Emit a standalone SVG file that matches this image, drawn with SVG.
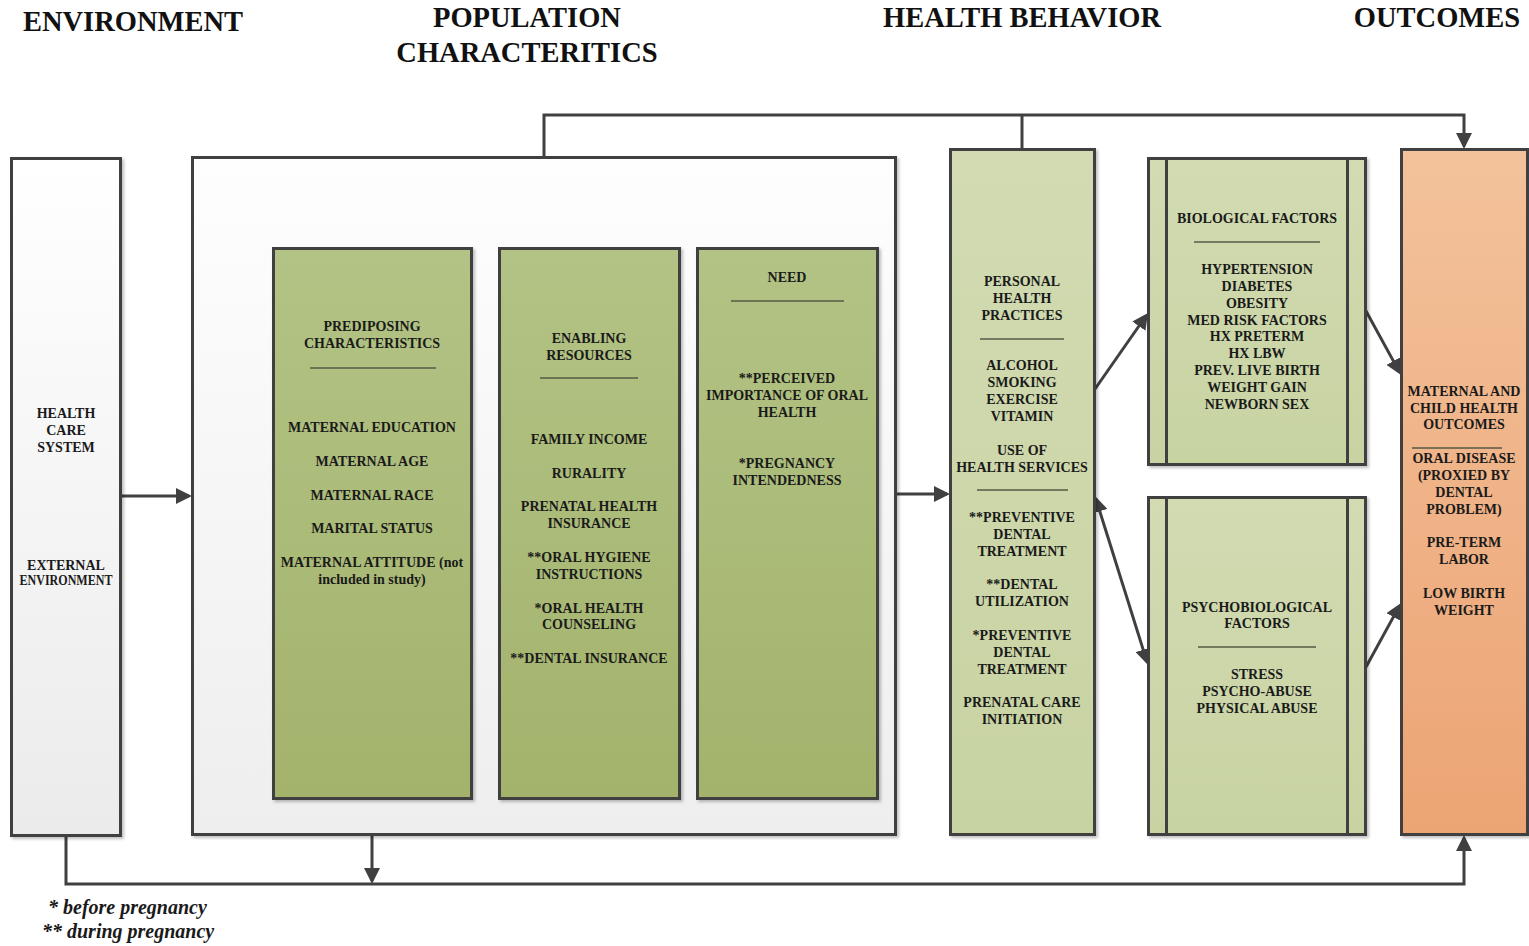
<svg xmlns="http://www.w3.org/2000/svg" width="1529" height="946" viewBox="0 0 1529 946">
  <style>
    .box { stroke: #404040; stroke-width: 3; }
    .sep { stroke: #555a45; stroke-width: 1.5; }
    .inner { stroke: #404040; stroke-width: 3; fill: none; }
    .t { font-family: "Liberation Serif", "Times New Roman", serif; font-weight: bold; font-size: 14px; fill: #1a1a1a; text-anchor: middle; }
    .head { font-family: "Liberation Serif", "Times New Roman", serif; font-weight: bold; font-size: 28.5px; fill: #111; text-anchor: middle; }
    .note { font-family: "Liberation Serif", "Times New Roman", serif; font-weight: bold; font-style: italic; font-size: 20px; fill: #1a1a1a; }
    .conn { stroke: #404040; stroke-width: 3; fill: none; }
  </style>
  <defs>
    <linearGradient id="gGrey" x1="0" y1="0" x2="0" y2="1">
      <stop offset="0" stop-color="#ffffff"/>
      <stop offset="1" stop-color="#ebebeb"/>
    </linearGradient>
    <linearGradient id="gPop" x1="0" y1="0" x2="0" y2="1">
      <stop offset="0" stop-color="#fefefe"/>
      <stop offset="1" stop-color="#eeeeee"/>
    </linearGradient>
    <linearGradient id="gOlive" x1="0" y1="0" x2="0" y2="1">
      <stop offset="0" stop-color="#b3c385"/>
      <stop offset="1" stop-color="#a3b36c"/>
    </linearGradient>
    <linearGradient id="gSage" x1="0" y1="0" x2="0" y2="1">
      <stop offset="0" stop-color="#d2dbb2"/>
      <stop offset="1" stop-color="#c8d3a2"/>
    </linearGradient>
    <linearGradient id="gPeach" x1="0" y1="0" x2="0" y2="1">
      <stop offset="0" stop-color="#f3c29b"/>
      <stop offset="1" stop-color="#eca474"/>
    </linearGradient>
    <filter id="shadow" x="-10%" y="-5%" width="120%" height="110%">
      <feDropShadow dx="2" dy="2" stdDeviation="1.5" flood-color="#000" flood-opacity="0.25"/>
    </filter>
    <marker id="arrow" markerUnits="userSpaceOnUse" markerWidth="16" markerHeight="16" refX="13" refY="8" orient="auto-start-reverse">
      <path d="M0,0 L16,8 L0,16 Z" fill="#404040"/>
    </marker>
  </defs>

  <rect width="1529" height="946" fill="#ffffff"/>

  <!-- column headings -->
  <g id="headings">
    <text class="head" x="133" y="31">ENVIRONMENT</text>
    <text class="head" x="527" y="27">POPULATION</text>
    <text class="head" x="527" y="62">CHARACTERITICS</text>
    <text class="head" x="1022" y="27">HEALTH BEHAVIOR</text>
    <text class="head" x="1437" y="27">OUTCOMES</text>
  </g>

  <!-- connectors -->
  <g id="connectors">
    <line class="conn" x1="120" y1="496" x2="189" y2="496" marker-end="url(#arrow)"/>
    <line class="conn" x1="896" y1="494" x2="947" y2="494" marker-end="url(#arrow)"/>
    <polyline class="conn" points="544,157 544,115 1464,115 1464,146" marker-end="url(#arrow)"/>
    <line class="conn" x1="1022" y1="115" x2="1022" y2="149"/>
    <polyline class="conn" points="66,835 66,884 1464,884 1464,838" marker-end="url(#arrow)"/>
    <line class="conn" x1="372" y1="799" x2="372" y2="881" marker-end="url(#arrow)"/>
    <line class="conn" x1="1095" y1="389" x2="1146.3" y2="315.5" marker-end="url(#arrow)"/>
    <line class="conn" x1="1095.9" y1="498.9" x2="1147.1" y2="662.1" marker-start="url(#arrow)" marker-end="url(#arrow)"/>
    <line class="conn" x1="1366" y1="311" x2="1399.6" y2="372.4" marker-end="url(#arrow)"/>
    <line class="conn" x1="1366" y1="667" x2="1399.6" y2="605.6" marker-end="url(#arrow)"/>
  </g>

  <!-- environment -->
  <g id="environment">
    <rect class="box" x="11.5" y="158.5" width="109" height="677" fill="url(#gGrey)" filter="url(#shadow)"/>
    <text class="t" x="66" y="418" font-size="13">HEALTH</text>
    <text class="t" x="66" y="435" font-size="13">CARE</text>
    <text class="t" x="66" y="452" font-size="13">SYSTEM</text>
    <text class="t" x="66" y="570" font-size="13.5">EXTERNAL</text>
    <text class="t" x="66" y="585" font-size="11" textLength="93" lengthAdjust="spacingAndGlyphs">ENVIRONMENT</text>
  </g>

  <!-- population characteristics container -->
  <g id="population">
    <rect class="box" x="192.5" y="157.5" width="703" height="677" fill="url(#gPop)" filter="url(#shadow)"/>
  </g>

  <g id="predisposing">
    <rect class="box" x="273.5" y="248.5" width="198" height="550" fill="url(#gOlive)" filter="url(#shadow)"/>
    <text class="t" x="372" y="331">PREDIPOSING</text>
    <text class="t" x="372" y="348">CHARACTERISTICS</text>
    <line class="sep" x1="310" y1="368" x2="436" y2="368"/>
    <text class="t" x="372" y="432">MATERNAL EDUCATION</text>
    <text class="t" x="372" y="466">MATERNAL AGE</text>
    <text class="t" x="372" y="500">MATERNAL RACE</text>
    <text class="t" x="372" y="533">MARITAL STATUS</text>
    <text class="t" x="372" y="567">MATERNAL ATTITUDE (not</text>
    <text class="t" x="372" y="584">included in study)</text>
  </g>

  <g id="enabling">
    <rect class="box" x="499.5" y="248.5" width="180" height="550" fill="url(#gOlive)" filter="url(#shadow)"/>
    <text class="t" x="589" y="343">ENABLING</text>
    <text class="t" x="589" y="360">RESOURCES</text>
    <line class="sep" x1="540" y1="378" x2="638" y2="378"/>
    <text class="t" x="589" y="444">FAMILY INCOME</text>
    <text class="t" x="589" y="478">RURALITY</text>
    <text class="t" x="589" y="511">PRENATAL HEALTH</text>
    <text class="t" x="589" y="528">INSURANCE</text>
    <text class="t" x="589" y="562">**ORAL HYGIENE</text>
    <text class="t" x="589" y="579">INSTRUCTIONS</text>
    <text class="t" x="589" y="613">*ORAL HEALTH</text>
    <text class="t" x="589" y="629">COUNSELING</text>
    <text class="t" x="589" y="663">**DENTAL INSURANCE</text>
  </g>

  <g id="need">
    <rect class="box" x="697.5" y="248.5" width="180" height="550" fill="url(#gOlive)" filter="url(#shadow)"/>
    <text class="t" x="787" y="282">NEED</text>
    <line class="sep" x1="731" y1="301" x2="844" y2="301"/>
    <text class="t" x="787" y="383">**PERCEIVED</text>
    <text class="t" x="787" y="400">IMPORTANCE OF ORAL</text>
    <text class="t" x="787" y="417">HEALTH</text>
    <text class="t" x="787" y="468">*PREGNANCY</text>
    <text class="t" x="787" y="485">INTENDEDNESS</text>
  </g>

  <!-- health behavior -->
  <g id="health-behavior">
    <rect class="box" x="950.5" y="149.5" width="144" height="685" fill="url(#gSage)" filter="url(#shadow)"/>
    <text class="t" x="1022" y="286">PERSONAL</text>
    <text class="t" x="1022" y="303">HEALTH</text>
    <text class="t" x="1022" y="320">PRACTICES</text>
    <line class="sep" x1="980" y1="339" x2="1064" y2="339"/>
    <text class="t" x="1022" y="370">ALCOHOL</text>
    <text class="t" x="1022" y="387">SMOKING</text>
    <text class="t" x="1022" y="404">EXERCISE</text>
    <text class="t" x="1022" y="421">VITAMIN</text>
    <text class="t" x="1022" y="455">USE OF</text>
    <text class="t" x="1022" y="472">HEALTH SERVICES</text>
    <line class="sep" x1="977" y1="490" x2="1068" y2="490"/>
    <text class="t" x="1022" y="522">**PREVENTIVE</text>
    <text class="t" x="1022" y="539">DENTAL</text>
    <text class="t" x="1022" y="556">TREATMENT</text>
    <text class="t" x="1022" y="589">**DENTAL</text>
    <text class="t" x="1022" y="606">UTILIZATION</text>
    <text class="t" x="1022" y="640">*PREVENTIVE</text>
    <text class="t" x="1022" y="657">DENTAL</text>
    <text class="t" x="1022" y="674">TREATMENT</text>
    <text class="t" x="1022" y="707">PRENATAL CARE</text>
    <text class="t" x="1022" y="724">INITIATION</text>
  </g>

  <!-- biological factors -->
  <g id="biological">
    <rect class="box" x="1148.5" y="158.5" width="217" height="306" fill="url(#gSage)" filter="url(#shadow)"/>
    <line class="inner" x1="1166.5" y1="158" x2="1166.5" y2="465"/>
    <line class="inner" x1="1347.5" y1="158" x2="1347.5" y2="465"/>
    <text class="t" x="1257" y="223">BIOLOGICAL FACTORS</text>
    <line class="sep" x1="1194" y1="242" x2="1320" y2="242"/>
    <text class="t" x="1257" y="274">HYPERTENSION</text>
    <text class="t" x="1257" y="291">DIABETES</text>
    <text class="t" x="1257" y="308">OBESITY</text>
    <text class="t" x="1257" y="325">MED RISK FACTORS</text>
    <text class="t" x="1257" y="341">HX PRETERM</text>
    <text class="t" x="1257" y="358">HX LBW</text>
    <text class="t" x="1257" y="375">PREV. LIVE BIRTH</text>
    <text class="t" x="1257" y="392">WEIGHT GAIN</text>
    <text class="t" x="1257" y="409">NEWBORN SEX</text>
  </g>

  <!-- psychobiological factors -->
  <g id="psychobiological">
    <rect class="box" x="1148.5" y="497.5" width="217" height="337" fill="url(#gSage)" filter="url(#shadow)"/>
    <line class="inner" x1="1166.5" y1="497" x2="1166.5" y2="835"/>
    <line class="inner" x1="1347.5" y1="497" x2="1347.5" y2="835"/>
    <text class="t" x="1257" y="612">PSYCHOBIOLOGICAL</text>
    <text class="t" x="1257" y="628">FACTORS</text>
    <line class="sep" x1="1198" y1="647" x2="1316" y2="647"/>
    <text class="t" x="1257" y="679">STRESS</text>
    <text class="t" x="1257" y="696">PSYCHO-ABUSE</text>
    <text class="t" x="1257" y="713">PHYSICAL ABUSE</text>
  </g>

  <!-- outcomes -->
  <g id="outcomes">
    <rect class="box" x="1401.5" y="149.5" width="126" height="685" fill="url(#gPeach)" filter="url(#shadow)"/>
    <text class="t" x="1464" y="396">MATERNAL AND</text>
    <text class="t" x="1464" y="413">CHILD HEALTH</text>
    <text class="t" x="1464" y="429">OUTCOMES</text>
    <line class="sep" x1="1412" y1="448" x2="1502" y2="448" stroke="#4a3a2a"/>
    <text class="t" x="1464" y="463">ORAL DISEASE</text>
    <text class="t" x="1464" y="480">(PROXIED BY</text>
    <text class="t" x="1464" y="497">DENTAL</text>
    <text class="t" x="1464" y="514">PROBLEM)</text>
    <text class="t" x="1464" y="547">PRE-TERM</text>
    <text class="t" x="1464" y="564">LABOR</text>
    <text class="t" x="1464" y="598">LOW BIRTH</text>
    <text class="t" x="1464" y="615">WEIGHT</text>
  </g>

  <!-- legend -->
  <g id="legend">
    <text class="note" x="48" y="914">* before pregnancy</text>
    <text class="note" x="42" y="938">** during pregnancy</text>
  </g>
</svg>
